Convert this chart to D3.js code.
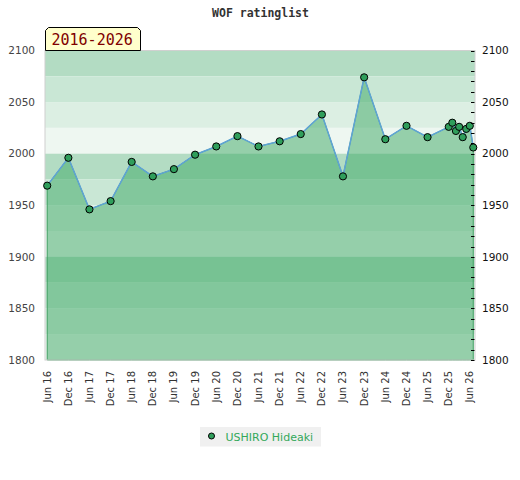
<!DOCTYPE html>
<html>
<head>
<meta charset="utf-8">
<script src="https://cdn.jsdelivr.net/npm/d3@7"></script>
<style>
  body { margin: 0; background: #fff; }
  text { font-family: "DejaVu Sans", sans-serif; }
</style>
</head>
<body>
<div id="chart"></div>
<script>
// rating periods and values
const periods = [
    "2016-06", "2016-12", "2017-06", "2017-12", "2018-06", "2018-12",
    "2019-06", "2019-12", "2020-06", "2020-12", "2021-06", "2021-12",
    "2022-06", "2022-12", "2023-06", "2023-12", "2024-06", "2024-12",
    "2025-06", "2025-12", "2026-01", "2026-02", "2026-03", "2026-04",
    "2026-05", "2026-06", "2026-07"
];
const ratings = [
    1969, 1996, 1946, 1954, 1992, 1978,
    1985, 1999, 2007, 2017, 2007, 2012,
    2019, 2038, 1978, 2074, 2014, 2027,
    2016, 2026, 2030, 2022, 2026, 2016,
    2024, 2027, 2006
];
const playerName = "USHIRO Hideaki";
const chartTitle = "WOF ratinglist";
const rangeLabel = "2016-2026";
const yMin = 1800, yMax = 2100;

const width = 520, height = 480;
const plotLeft = 45, plotRight = 475, plotTop = 50.5, plotBottom = 360;

const parse = d3.timeParse("%Y-%m");
const data = periods.map((p, i) => ({ date: parse(p), value: ratings[i] }));

const svg = d3.select("#chart")
    .append("svg")
    .attr("width", width)
    .attr("height", height);

const x = d3.scaleTime()
    .domain([new Date(2016, 4, 13), new Date(2026, 6, 16)])
    .range([plotLeft, plotRight]);

const y = d3.scaleLinear()
    .domain([yMin, yMax])
    .range([plotBottom, plotTop]);

// background bands every 25 points
const bandColors = ["#b3dcc3", "#c9e7d5", "#dcefe3", "#eef7f1"];
const bands = d3.range(yMax, yMin, -25);
svg.append("g")
    .selectAll("rect")
    .data(bands)
    .join("rect")
    .attr("x", plotLeft)
    .attr("width", plotRight - plotLeft)
    .attr("y", d => y(d))
    .attr("height", d => y(d - 25) - y(d))
    .attr("fill", (d, i) => bandColors[i % 4]);

// area under the rating line
const area = d3.area()
    .x(d => x(d.date))
    .y0(y(yMin))
    .y1(d => y(d.value));

svg.append("path")
    .datum(data)
    .attr("d", area)
    .attr("fill", "rgba(60,168,100,0.5)")
    .attr("stroke", "#3f9f60")
    .attr("stroke-width", 1);

// plot border
svg.append("rect")
    .attr("x", plotLeft)
    .attr("y", plotTop)
    .attr("width", plotRight - plotLeft)
    .attr("height", plotBottom - plotTop)
    .attr("fill", "none")
    .attr("stroke", "#d0d0d0")
    .attr("stroke-width", 1);

const line = d3.line()
    .x(d => x(d.date))
    .y(d => y(d.value));

svg.append("path")
    .datum(data)
    .attr("d", line)
    .attr("fill", "none")
    .attr("stroke", "#5fa3d6")
    .attr("stroke-width", 1.5);

svg.append("g")
    .selectAll("circle")
    .data(data)
    .join("circle")
    .attr("cx", d => x(d.date))
    .attr("cy", d => y(d.value))
    .attr("r", 3.6)
    .attr("fill", "#2f9e5b")
    .attr("stroke", "#000")
    .attr("stroke-width", 1);

// left axis: labels only
const majorTicks = d3.range(yMin, yMax + 1, 50);
svg.append("g")
    .selectAll("text")
    .data(majorTicks)
    .join("text")
    .attr("x", 35)
    .attr("y", d => y(d))
    .attr("dy", "0.35em")
    .attr("text-anchor", "end")
    .attr("font-size", 10.5)
    .attr("fill", "#444")
    .text(d => d);

// right axis: minor ticks every 10, labels every 50
svg.append("g")
    .selectAll("line")
    .data(d3.range(yMin, yMax + 1, 10))
    .join("line")
    .attr("x1", 471)
    .attr("x2", 474.5)
    .attr("y1", d => Math.round(y(d)) + 0.5)
    .attr("y2", d => Math.round(y(d)) + 0.5)
    .attr("stroke", "#000");

svg.append("g")
    .selectAll("text")
    .data(majorTicks)
    .join("text")
    .attr("x", 482)
    .attr("y", d => y(d))
    .attr("dy", "0.35em")
    .attr("font-size", 10.5)
    .attr("fill", "#111")
    .text(d => d);

// x axis labels, rotated
const xTicks = d3.timeMonths(new Date(2016, 5, 1), new Date(2026, 5, 2), 6);
const fmt = d3.timeFormat("%b %y");
svg.append("g")
    .selectAll("text")
    .data(xTicks)
    .join("text")
    .attr("transform", d => `translate(${x(d)},371) rotate(-90)`)
    .attr("dy", "0.35em")
    .attr("text-anchor", "end")
    .attr("font-size", 10)
    .attr("fill", "#333")
    .text(d => fmt(d));

// title
svg.append("text")
    .attr("x", 260.5)
    .attr("y", 17)
    .attr("text-anchor", "middle")
    .attr("font-weight", "bold")
    .attr("font-size", 11.5)
    .attr("fill", "#333")
    .style("font-family", "'DejaVu Sans Mono', monospace")
    .text(chartTitle);

// range label box
svg.append("polygon")
    .attr("points", "45.5,50.5 45.5,30.5 48.5,27.5 137.5,27.5 140.5,30.5 140.5,50.5")
    .attr("fill", "#ffffcc")
    .attr("stroke", "#000")
    .attr("stroke-width", 1);

svg.append("text")
    .attr("x", 51.5)
    .attr("y", 45)
    .attr("font-size", 15)
    .attr("fill", "#800000")
    .style("font-family", "'DejaVu Sans Mono', monospace")
    .text(rangeLabel);

// legend
const legend = svg.append("g");
legend.append("rect")
    .attr("x", 200)
    .attr("y", 427)
    .attr("width", 121)
    .attr("height", 19.5)
    .attr("fill", "#f0f0f0");
legend.append("circle")
    .attr("cx", 211.5)
    .attr("cy", 436)
    .attr("r", 3)
    .attr("fill", "#2f9e5b")
    .attr("stroke", "#000");
legend.append("text")
    .attr("x", 225.5)
    .attr("y", 440.5)
    .attr("font-size", 11)
    .attr("fill", "#33a85a")
    .text(playerName);
</script>
</body>
</html>
